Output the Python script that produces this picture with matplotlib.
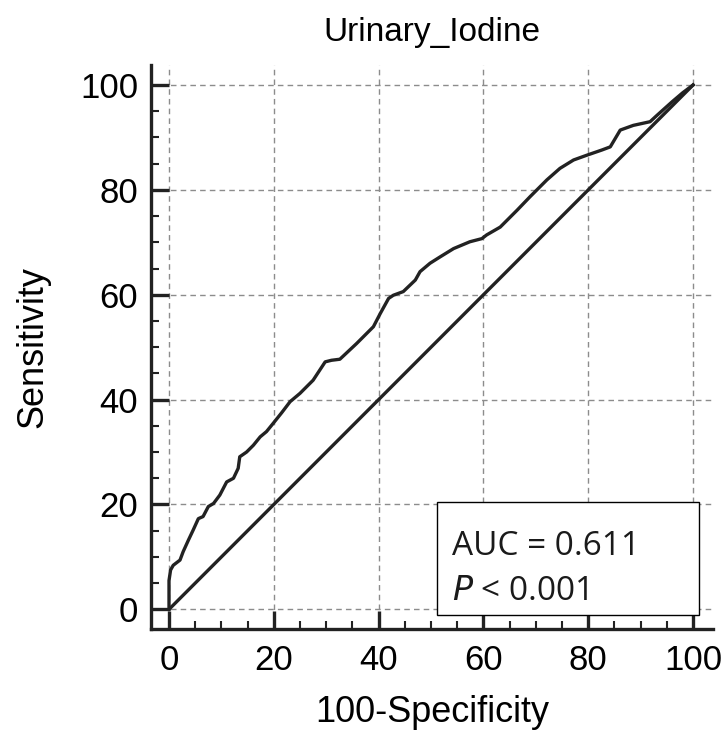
"""ROC curve for urinary iodine (MedCalc-style)."""
import matplotlib
matplotlib.use('Agg')
import matplotlib.pyplot as plt
from matplotlib.patches import Rectangle
from matplotlib.ticker import MultipleLocator, FixedLocator

# ROC points: 100-Specificity (%) vs Sensitivity (%)
fpr = [0, 0, 0.3, 0.8, 2.1, 2.7, 3.7, 4.6, 5.6, 6.5, 7.5, 8.5, 9.7, 11.0, 12.3,
       13.2, 13.5, 14.8, 16.1, 17.4, 18.6, 19.9, 21.5, 23.1, 25.0, 27.5, 29.8,
       31.0, 32.6, 35.8, 39.0, 40.3, 41.9, 42.8, 44.7, 47.0, 47.9, 49.8, 51.7,
       54.3, 57.4, 59.7, 60.6, 63.2, 64.8, 66.4, 68.9, 72.1, 74.6, 77.2, 79.7,
       82.6, 84.2, 86.1, 88.6, 91.8, 93.1, 96.0, 98.0, 100]
tpr = [0, 5.5, 7.5, 8.4, 9.4, 11.0, 13.2, 15.1, 17.3, 17.7, 19.6, 20.2, 21.8,
       24.3, 25.0, 26.9, 29.1, 30.0, 31.3, 32.9, 33.9, 35.5, 37.5, 39.6, 41.2,
       43.7, 47.2, 47.5, 47.7, 50.7, 53.9, 56.4, 59.3, 59.9, 60.6, 62.8, 64.4,
       66.0, 67.2, 68.8, 70.1, 70.7, 71.4, 72.9, 74.5, 76.1, 78.7, 81.9, 84.1,
       85.7, 86.6, 87.6, 88.2, 91.4, 92.3, 93.0, 94.2, 96.8, 98.5, 100]
diag = [0, 100]

title = "Urinary_Iodine"
auc_text = "AUC = 0.611"
p_text = "$\\it{P}$ < 0.001"

LINE = '#222222'
GRID = '#8c8c8c'

plt.rcParams['font.family'] = ['Liberation Sans', 'DejaVu Sans']

fig = plt.figure(figsize=(7.24, 7.31), dpi=100)
ax = fig.add_axes([0.2081, 0.1395, 0.7767, 0.7715])

ax.plot(fpr, tpr, color=LINE, linewidth=2.4, solid_joinstyle='round', zorder=3)
ax.plot(diag, diag, color=LINE, linewidth=2.4, zorder=3)

ax.set_xlim(-3.5, 103.8)
ax.set_ylim(-3.75, 103.8)

ax.xaxis.set_major_locator(MultipleLocator(20))
ax.yaxis.set_major_locator(MultipleLocator(20))
minors = [v for v in range(5, 100, 5) if v % 20]
ax.xaxis.set_minor_locator(FixedLocator(minors))
ax.yaxis.set_minor_locator(FixedLocator(minors))

ax.grid(True, which='major', color=GRID, linestyle=(0, (4, 3)), linewidth=1.0, zorder=1)

for s in ['top', 'right']:
    ax.spines[s].set_visible(False)
for s in ['left', 'bottom']:
    ax.spines[s].set_linewidth(2.4)
    ax.spines[s].set_color(LINE)

ax.tick_params(which='major', direction='in', length=13, width=2.4, color=LINE,
               labelsize=25, pad=9)
ax.tick_params(which='minor', direction='in', length=6, width=1.5, color=LINE)
ax.tick_params(axis='x', which='both', top=False)
ax.tick_params(axis='y', which='both', right=False)
ax.tick_params(axis='x', which='major', pad=11)

ax.set_title(title, fontsize=24, pad=17)
ax.set_xlabel("100-Specificity", fontsize=26, labelpad=13)
ax.set_ylabel("Sensitivity", fontsize=26, labelpad=21)

# AUC box
box = Rectangle((0.5097, 0.0248), 0.4662, 0.2004, transform=ax.transAxes,
                facecolor='white', edgecolor='black', linewidth=1.0, zorder=4)
ax.add_patch(box)
ax.text(0.536, 0.1312, auc_text, transform=ax.transAxes, fontsize=24,
        family='Open Sans', ha='left', va='baseline', zorder=5, color='#1a1a1a')
ax.text(0.536, 0.0514, p_text, transform=ax.transAxes, fontsize=24,
        family='Open Sans', ha='left', va='baseline', zorder=5, color='#1a1a1a')

fig.savefig('out.png', dpi=100, facecolor='white')
